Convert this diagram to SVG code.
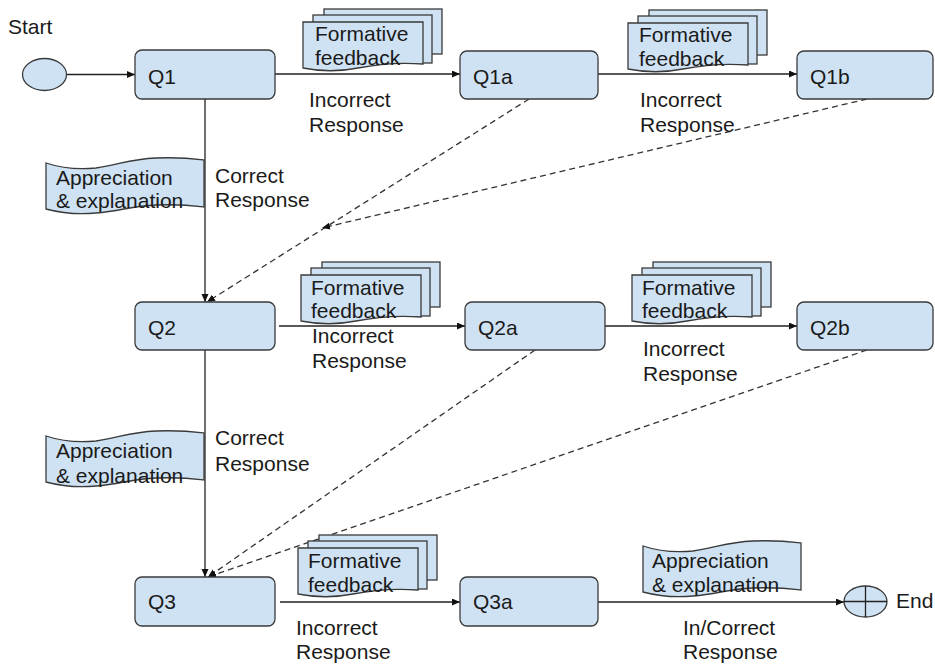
<svg xmlns="http://www.w3.org/2000/svg" width="935" height="666" viewBox="0 0 935 666">
<defs>
<style>
.n{fill:#cfe2f3;stroke:#3a3a3a;stroke-width:1.3}
.t{font-family:"Liberation Sans",Arial,sans-serif;font-size:21px;fill:#1a1a1a}
.c{stroke:#222;stroke-width:1.3;fill:none}
.d{stroke:#333;stroke-width:1.3;fill:none;stroke-dasharray:6 4}
</style>
<marker id="ah" markerUnits="userSpaceOnUse" markerWidth="9" markerHeight="8" refX="8" refY="3.5" orient="auto">
<path d="M0,0 L8,3.5 L0,7 Z" fill="#111"/>
</marker>
<g id="stack">
<rect class="n" x="21" y="-13" width="118" height="45"/>
<rect class="n" x="10" y="-7" width="119" height="48"/>
<path class="n" d="M0,0 H120 V42 C95,40 75,42 55,46 C35,50 15,49 0,46 Z"/>
</g>
<path id="tape" class="n" d="M0,4 C15,9 30,11 50,9 C75,5 85,0 110,-1 C135,-2 150,0 158,1 L158,48 C150,47 135,45 110,46 C85,47 75,52 50,54 C30,56 15,54 0,50 Z"/>
</defs>
<rect width="935" height="666" fill="#fff"/>

<g id="connectors">
<line class="c" x1="66" y1="74.5" x2="135" y2="74.5" marker-end="url(#ah)"/>
<line class="c" x1="275" y1="74" x2="460" y2="74" marker-end="url(#ah)"/>
<line class="c" x1="598" y1="74" x2="797" y2="74" marker-end="url(#ah)"/>
<line class="c" x1="205" y1="99" x2="205" y2="302" marker-end="url(#ah)"/>
<line class="d" x1="529" y1="99" x2="207" y2="302" marker-end="url(#ah)"/>
<line class="d" x1="867" y1="99" x2="322" y2="228" marker-end="url(#ah)"/>
<line class="c" x1="279" y1="326" x2="465" y2="326" marker-end="url(#ah)"/>
<line class="c" x1="605" y1="326" x2="797" y2="326" marker-end="url(#ah)"/>
<line class="c" x1="205" y1="350" x2="205" y2="577" marker-end="url(#ah)"/>
<line class="d" x1="535" y1="350" x2="208" y2="577" marker-end="url(#ah)"/>
<line class="d" x1="867" y1="350" x2="208" y2="577" marker-end="url(#ah)"/>
<line class="c" x1="280" y1="602" x2="460" y2="602" marker-end="url(#ah)"/>
<line class="c" x1="598" y1="602" x2="844" y2="602" marker-end="url(#ah)"/>
</g>

<g id="labels">
<text class="t" x="309" y="107">Incorrect</text>
<text class="t" x="309" y="132">Response</text>
<text class="t" x="640" y="107">Incorrect</text>
<text class="t" x="640" y="132">Response</text>
<text class="t" x="215" y="183">Correct</text>
<text class="t" x="215" y="207">Response</text>
<text class="t" x="312" y="343">Incorrect</text>
<text class="t" x="312" y="368">Response</text>
<text class="t" x="643" y="356">Incorrect</text>
<text class="t" x="643" y="381">Response</text>
<text class="t" x="215" y="445">Correct</text>
<text class="t" x="215" y="471">Response</text>
<text class="t" x="296" y="635">Incorrect</text>
<text class="t" x="296" y="659">Response</text>
<text class="t" x="683" y="635">In/Correct</text>
<text class="t" x="683" y="659">Response</text>
</g>

<g id="start">
<ellipse class="n" cx="44.5" cy="74.5" rx="22" ry="16"/>
<text class="t" x="8" y="34">Start</text>
</g>
<g id="q1"><rect class="n" x="135" y="50" width="140" height="49" rx="7"/><text class="t" x="148" y="84">Q1</text></g>
<g id="q1a"><rect class="n" x="460" y="51" width="138" height="48" rx="7"/><text class="t" x="473" y="84">Q1a</text></g>
<g id="q1b"><rect class="n" x="797" y="51" width="136" height="48" rx="7"/><text class="t" x="810" y="84">Q1b</text></g>
<g id="q2"><rect class="n" x="135" y="302" width="140" height="48" rx="7"/><text class="t" x="148" y="335">Q2</text></g>
<g id="q2a"><rect class="n" x="465" y="302" width="140" height="48" rx="7"/><text class="t" x="478" y="335">Q2a</text></g>
<g id="q2b"><rect class="n" x="797" y="302" width="136" height="48" rx="7"/><text class="t" x="810" y="335">Q2b</text></g>
<g id="q3"><rect class="n" x="135" y="577" width="140" height="49" rx="7"/><text class="t" x="148" y="609">Q3</text></g>
<g id="q3a"><rect class="n" x="460" y="577" width="138" height="49" rx="7"/><text class="t" x="473" y="609">Q3a</text></g>
<g id="end">
<ellipse class="n" cx="865.5" cy="601.5" rx="21.5" ry="15.5"/>
<line class="c" x1="865.5" y1="586" x2="865.5" y2="617"/>
<line class="c" x1="844" y1="601.5" x2="887" y2="601.5"/>
<text class="t" x="896" y="608">End</text>
</g>

<g id="fb1a"><use href="#stack" x="303" y="22"/><text class="t" x="315" y="41">Formative</text><text class="t" x="315" y="65">feedback</text></g>
<g id="fb1b"><use href="#stack" x="628" y="23"/><text class="t" x="639" y="42">Formative</text><text class="t" x="639" y="66">feedback</text></g>
<g id="fb2a"><use href="#stack" x="301" y="275"/><text class="t" x="311" y="295">Formative</text><text class="t" x="311" y="318">feedback</text></g>
<g id="fb2b"><use href="#stack" x="632" y="275"/><text class="t" x="642" y="295">Formative</text><text class="t" x="642" y="318">feedback</text></g>
<g id="fb3"><use href="#stack" x="298" y="548"/><text class="t" x="308" y="568">Formative</text><text class="t" x="308" y="592">feedback</text></g>

<g id="ap1"><use href="#tape" x="46" y="159"/><text class="t" x="56" y="185">Appreciation</text><text class="t" x="56" y="208">&amp; explanation</text></g>
<g id="ap2"><use href="#tape" x="46" y="432"/><text class="t" x="56" y="458">Appreciation</text><text class="t" x="56" y="483">&amp; explanation</text></g>
<g id="ap3"><use href="#tape" x="643" y="542"/><text class="t" x="652" y="568">Appreciation</text><text class="t" x="652" y="592">&amp; explanation</text></g>
</svg>
